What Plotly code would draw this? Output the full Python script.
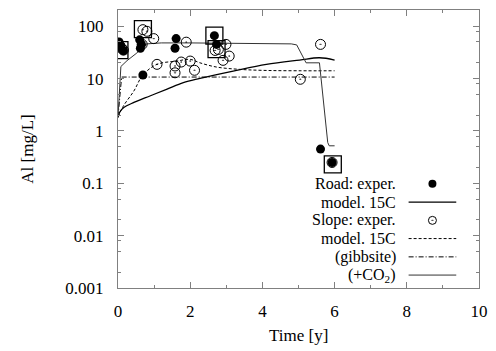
import plotly.graph_objects as go

# Measured Al concentrations (mg/L) versus time (years)
road_t = [0.03, 0.08, 0.15, 0.60, 0.65, 0.62, 0.69, 1.61, 1.58, 2.67, 2.73, 5.61, 5.93]
road_v = [50, 42, 34, 55, 45, 38, 11.7, 58, 38, 66, 45, 0.45, 0.25]

slope_t = [0.05, 0.10, 0.15, 0.69, 0.80, 0.99, 0.67, 1.08, 1.89, 1.58, 1.58,
           1.75, 2.00, 2.12, 2.69, 2.78, 2.99, 3.08, 2.91, 5.05, 5.61, 5.93]
slope_v = [42, 38, 35, 86, 80, 58, 45, 18.7, 49.6, 17.4, 12.9,
           20.7, 21.6, 14.4, 34.5, 36, 45, 26.9, 22.3, 9.7, 45, 0.25]

# Highlighted samples (boxed)
box_t = [0.04, 0.69, 2.67, 2.73, 5.95]
box_v = [35, 87.7, 66, 36.5, 0.23]

# Model curves
road_model_t = [0, 0.05, 0.16, 0.44, 0.9, 1.36, 1.81, 2.27, 3.19, 4.11, 5.03, 5.58, 6.0]
road_model_v = [1.8, 2.3, 2.8, 3.5, 4.7, 6.3, 8.4, 10.1, 13.9, 18.7, 22.6, 25, 22.6]

slope_model_t = [0, 0.15, 0.44, 0.69, 1.08, 1.63, 2.0, 2.27, 2.73, 3.37, 4.11, 5.0, 6.0]
slope_model_v = [1.86, 3.0, 5.8, 11.7, 18.7, 21.6, 23.3, 20, 16.6, 15, 14.3, 14.1, 14.1]

gibbsite_t = [0, 0.1, 6.0]
gibbsite_v = [1.86, 10.7, 10.7]

co2_t = [0, 0.08, 0.25, 0.5, 0.8, 1.2, 2.0, 3.0, 4.0, 4.8, 4.95, 5.21, 5.58, 5.81, 5.85, 6.0]
co2_v = [1.86, 17, 22, 30, 46, 48, 48, 47.5, 47, 46, 44, 20, 20, 0.6, 0.52, 0.52]

# Legend rows
legend_labels = ["Road: exper.", "model. 15C", "Slope: exper.", "model. 15C",
                 "(gibbsite)", "(+CO<sub>2</sub>)"]

FONT = "Liberation Serif"
FRAME = "#808080"

fig = go.Figure()

fig.add_trace(go.Scatter(x=road_model_t, y=road_model_v, mode="lines",
                         line=dict(color="black", width=1.3), line_shape="spline"))
fig.add_trace(go.Scatter(x=slope_model_t, y=slope_model_v, mode="lines",
                         line=dict(color="black", width=1, dash="3px,2px"),
                         line_shape="spline"))
fig.add_trace(go.Scatter(x=gibbsite_t, y=gibbsite_v, mode="lines",
                         line=dict(color="black", width=1, dash="5px,2px,1px,2px")))
fig.add_trace(go.Scatter(x=co2_t, y=co2_v, mode="lines",
                         line=dict(color="#333333", width=1)))

fig.add_trace(go.Scatter(x=slope_t, y=slope_v, mode="markers",
                         marker=dict(symbol="circle-open-dot", size=10, color="black",
                                     line=dict(width=1, color="black"))))
fig.add_trace(go.Scatter(x=road_t, y=road_v, mode="markers",
                         marker=dict(symbol="circle", size=9, color="black")))
fig.add_trace(go.Scatter(x=box_t, y=box_v, mode="markers",
                         marker=dict(symbol="square-open", size=17, color="black",
                                     line=dict(width=1.3, color="black"))))

# Key drawn inside the plot area, text to the left of each sample
row_y = [0.3746, 0.3088, 0.2433, 0.1778, 0.1120, 0.0465]
text_x = 0.772
seg_x0, seg_x1, mark_x = 0.805, 0.937, 0.871

annotations = []
for lab, yy in zip(legend_labels, row_y):
    annotations.append(dict(x=text_x, y=yy, xref="paper", yref="paper", text=lab,
                            showarrow=False, xanchor="right", yanchor="middle",
                            borderpad=0,
                            font=dict(family=FONT, size=16, color="black")))

shapes = []
line_styles = {1: dict(color="black", width=1.3),
               3: dict(color="black", width=1, dash="3px,2px"),
               4: dict(color="black", width=1, dash="5px,2px,1px,2px"),
               5: dict(color="#333333", width=1)}
for i, st in line_styles.items():
    shapes.append(dict(type="line", xref="paper", yref="paper", x0=seg_x0, x1=seg_x1,
                       y0=row_y[i], y1=row_y[i], line=st))

fig.add_trace(go.Scatter(x=[mark_x], y=[row_y[0]], xaxis="x2", yaxis="y2", mode="markers",
                         marker=dict(symbol="circle", size=8, color="black")))
fig.add_trace(go.Scatter(x=[mark_x], y=[row_y[2]], xaxis="x2", yaxis="y2", mode="markers",
                         marker=dict(symbol="circle-open-dot", size=8, color="black",
                                     line=dict(width=1, color="black"))))

# Axis titles
annotations.append(dict(x=0.5, y=-0.172, xref="paper", yref="paper", text="Time [y]",
                        showarrow=False, xanchor="center", yanchor="middle",
                        font=dict(family=FONT, size=17, color="black")))
annotations.append(dict(x=-0.253, y=0.5, xref="paper", yref="paper", text="Al [mg/L]",
                        showarrow=False, textangle=-90, xanchor="center", yanchor="middle",
                        font=dict(family=FONT, size=17, color="black")))

minor_y = []
for e in range(-3, 3):
    for m in (2, 5, 8):
        v = m * 10.0 ** e
        if v < 200:
            minor_y.append(v)

axis_common = dict(showline=True, linecolor=FRAME, linewidth=1, mirror="allticks",
                   ticks="inside", tickcolor=FRAME, ticklen=6, tickwidth=1,
                   showgrid=False, zeroline=False,
                   tickfont=dict(family=FONT, size=17, color="black"))

fig.update_layout(
    width=496, height=351,
    margin=dict(l=117.5, r=15.3, t=8.5, b=63),
    paper_bgcolor="white", plot_bgcolor="white",
    showlegend=False,
    xaxis=dict(range=[0, 10], tickvals=[0, 2, 4, 6, 8, 10],
               ticktext=["0", "2", "4", "6", "8", "10"], ticklabelstandoff=8,
               minor=dict(tickvals=[1, 3, 5, 7, 9], ticklen=3, tickcolor=FRAME, ticks="inside"),
               **axis_common),
    yaxis=dict(type="log", range=[-3, 2.31],
               tickvals=[0.001, 0.01, 0.1, 1, 10, 100],
               ticktext=["0.001", "0.01", "0.1", "1", "10", "100"], ticklabelstandoff=10,
               minor=dict(tickvals=minor_y, ticklen=3, tickcolor=FRAME, ticks="inside"),
               **axis_common),
    xaxis2=dict(overlaying="x", range=[0, 1], visible=False),
    yaxis2=dict(overlaying="y", range=[0, 1], visible=False),
    annotations=annotations,
    shapes=shapes,
)

fig.write_html("out.html")
